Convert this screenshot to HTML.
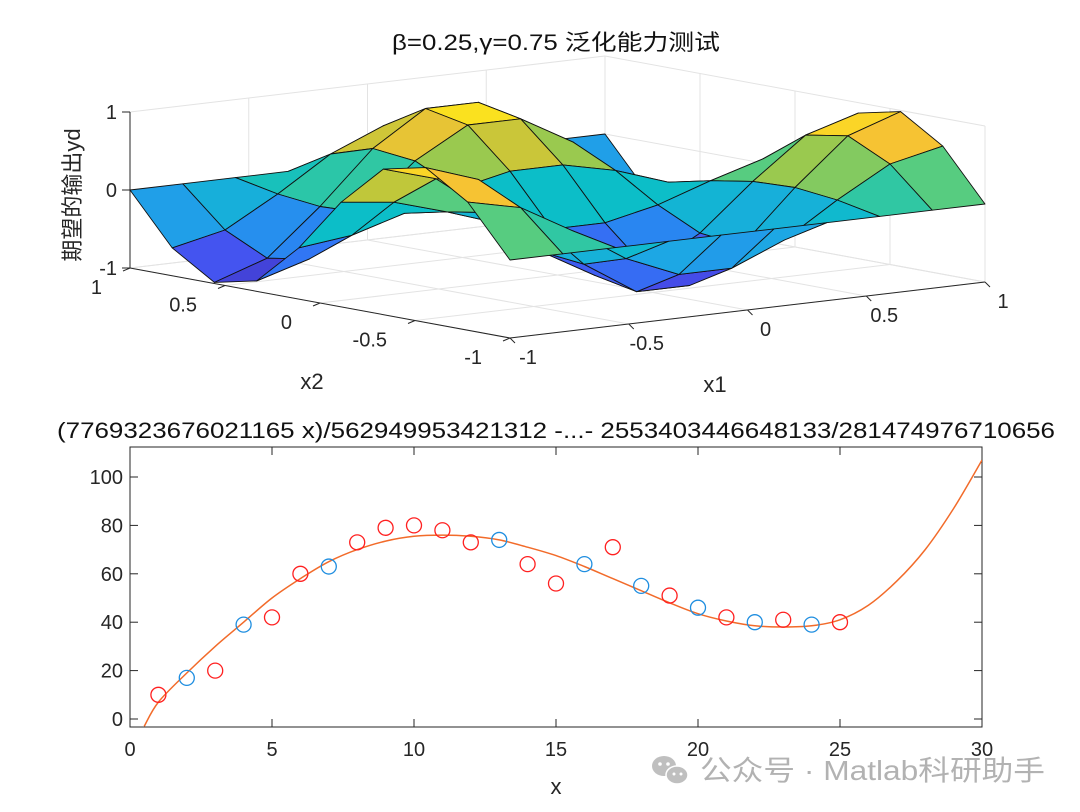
<!DOCTYPE html>
<html><head><meta charset="utf-8">
<style>
html,body{margin:0;padding:0;background:#fff;}
svg{display:block;font-family:"Liberation Sans","Noto Sans CJK SC",sans-serif;}
</style></head>
<body>
<svg id="fig" width="1080" height="812" viewBox="0 0 1080 812" xmlns="http://www.w3.org/2000/svg">
<rect width="1080" height="812" fill="#fff"/>
<g id="top3d"></g>
<text x="392" y="50" textLength="328" lengthAdjust="spacingAndGlyphs" font-size="22" fill="#111">β=0.25,γ=0.75 泛化能力测试</text>
<text transform="translate(80,195) rotate(-90)" text-anchor="middle" font-size="22" fill="#262626">期望的输出yd</text>
<text x="312" y="389" text-anchor="middle" font-size="22" fill="#262626">x2</text>
<text x="715" y="392" text-anchor="middle" font-size="22" fill="#262626">x1</text>

<g id="bottom"></g>
<text x="57" y="438" textLength="998" lengthAdjust="spacingAndGlyphs" font-size="22" fill="#111">(7769323676021165 x)/562949953421312 -...- 2553403446648133/281474976710656</text>
<text x="556" y="794" text-anchor="middle" font-size="22" fill="#262626">x</text>

<g opacity="0.75">
  <ellipse cx="664" cy="766" rx="12" ry="10" fill="#aaa"/>
  <ellipse cx="677" cy="775" rx="11" ry="9" fill="#aaa" stroke="#fff" stroke-width="1.5"/>
  <circle cx="660" cy="764" r="1.8" fill="#fff"/><circle cx="668" cy="764" r="1.8" fill="#fff"/>
  <circle cx="674" cy="774" r="1.5" fill="#fff"/><circle cx="681" cy="774" r="1.5" fill="#fff"/>
  <text x="700" y="780" textLength="345" lengthAdjust="spacingAndGlyphs" font-size="28" fill="#999">公众号 · Matlab科研助手</text>
</g>
</svg>
<script>
var NS='http://www.w3.org/2000/svg';
// ---------- bottom chart data ----------
var redX=[1,3,5,6,8,9,10,11,12,14,15,17,19,21,23,25];
var redY=[10,20,42,60,73,79,80,78,73,64,56,71,51,42,41,40];
var blueX=[2,4,7,13,16,18,20,22,24];
var blueY=[17,39,63,74,64,55,46,40,39];
var fitX=[0.5,1,2,3,4,5,6,7,8,9,10,11,12,13,14,15,16,17,18,19,20,21,22,23,24,25,26,27,28,29,30];
var fitY=[-3,7,19,30,40,50,58,65,70,73.5,75.5,76,75.5,74,71,67.5,63,58,53,48,43.5,40.5,38.5,38,38.5,41,47,57,70,87,107];
var xTicks=[0,5,10,15,20,25,30];
var yTicks=[0,20,40,60,80,100];
// ---------- surface data ----------
var gridVals=[-1,-0.7778,-0.5556,-0.3333,-0.1111,0.1111,0.3333,0.5556,0.7778,1];
var axTicks=[-1,-0.5,0,0.5,1];
var zTicks=[-1,0,1];

function mk(tag,attrs,parent){var e=document.createElementNS(NS,tag);for(var k in attrs)e.setAttribute(k,attrs[k]);parent.appendChild(e);return e;}

// ===== bottom =====
var B=document.getElementById('bottom');
var L=130,R=982,T=447,Bt=727;
function sx(v){return L+(v-0)*(R-L)/30;}
function sy(v){return 719-v*2.42;}
mk('rect',{x:L,y:T,width:R-L,height:Bt-T,fill:'#fff',stroke:'#262626','stroke-width':1},B);
xTicks.forEach(function(t){
  var x=sx(t);
  mk('line',{x1:x,y1:Bt,x2:x,y2:Bt-8,stroke:'#262626'},B);
  mk('line',{x1:x,y1:T,x2:x,y2:T+8,stroke:'#262626'},B);
  var tx=mk('text',{x:x,y:756,'text-anchor':'middle','font-size':20,fill:'#262626'},B);
  tx.textContent=t;
  
  
});
yTicks.forEach(function(t){
  var y=sy(t);
  mk('line',{x1:L,y1:y,x2:L+8,y2:y,stroke:'#262626'},B);
  mk('line',{x1:R,y1:y,x2:R-8,y2:y,stroke:'#262626'},B);
  var tx=mk('text',{x:L-7,y:y+7,'text-anchor':'end','font-size':20,fill:'#262626'},B);
  tx.textContent=t;
  
  
});
var cp=mk('clipPath',{id:'bclip'},B);mk('rect',{x:L,y:T,width:R-L,height:Bt-T},cp);
var P2=fitX.map(function(x,i){return [sx(x),sy(fitY[i])];});
var d='M'+P2[0][0].toFixed(1)+','+P2[0][1].toFixed(1);
for(var i=0;i<P2.length-1;i++){
  var p0=P2[Math.max(0,i-1)],p1=P2[i],p2=P2[i+1],p3=P2[Math.min(P2.length-1,i+2)];
  var c1=[p1[0]+(p2[0]-p0[0])/6,p1[1]+(p2[1]-p0[1])/6],c2=[p2[0]-(p3[0]-p1[0])/6,p2[1]-(p3[1]-p1[1])/6];
  d+='C'+c1[0].toFixed(1)+','+c1[1].toFixed(1)+' '+c2[0].toFixed(1)+','+c2[1].toFixed(1)+' '+p2[0].toFixed(1)+','+p2[1].toFixed(1);
}
var fl=mk('path',{d:d,fill:'none',stroke:'#f26b2a','stroke-width':1.5,'clip-path':'url(#bclip)'},B);


redX.forEach(function(x,i){
  var c=mk('ellipse',{cx:sx(x),cy:sy(redY[i]),rx:7.5,ry:7.5,fill:'none',stroke:'#ff2020','stroke-width':1.3},B);
  
  
});
blueX.forEach(function(x,i){
  var c=mk('ellipse',{cx:sx(x),cy:sy(blueY[i]),rx:7.5,ry:7.5,fill:'none',stroke:'#1f8ee0','stroke-width':1.3},B);
  
  
});

// ===== 3D =====
var G=document.getElementById('top3d');
function P(x1,x2,z){var a=x1+1,b=x2+1;return [510+237.5*a-190*b,338-28*a-35*b-78*(z+1)];}
function pt(p){return p[0].toFixed(1)+','+p[1].toFixed(1);}
function line3(p,q,attrs){var A=P.apply(null,p),Q=P.apply(null,q);attrs.x1=A[0];attrs.y1=A[1];attrs.x2=Q[0];attrs.y2=Q[1];return mk('line',attrs,G);}
var gs={stroke:'#e3e3e3','stroke-width':1};
axTicks.forEach(function(t){
  line3([t,1,-1],[t,1,1],gs); line3([t,-1,-1],[t,1,-1],gs);
  line3([1,t,-1],[1,t,1],gs); line3([-1,t,-1],[1,t,-1],gs);
});
zTicks.forEach(function(t){line3([-1,1,t],[1,1,t],gs);line3([1,1,t],[1,-1,t],gs);});
var ax={stroke:'#262626','stroke-width':1};
line3([-1,1,-1],[-1,1,1],ax);
line3([-1,1,-1],[-1,-1,-1],ax);
line3([-1,-1,-1],[1,-1,-1],ax);
zTicks.forEach(function(t){var p=P(-1,1,t);mk('line',{x1:p[0]-8,y1:p[1],x2:p[0],y2:p[1],stroke:'#262626'},G);
  var tx=mk('text',{x:p[0]-13,y:p[1]+7,'text-anchor':'end','font-size':20,fill:'#262626'},G);tx.textContent=t;
  
  });
axTicks.forEach(function(t){
  var p=P(-1,t,-1);mk('line',{x1:p[0],y1:p[1],x2:p[0]-7,y2:p[1]+3,stroke:'#262626'},G);
  var tx=mk('text',{x:p[0]-28,y:p[1]+26,'text-anchor':'end','font-size':20,fill:'#262626'},G);tx.textContent=t;
  
  
  var q=P(t,-1,-1);mk('line',{x1:q[0],y1:q[1],x2:q[0]+5,y2:q[1]+5,stroke:'#262626'},G);
  var ty=mk('text',{x:q[0]+18,y:q[1]+26,'text-anchor':'middle','font-size':20,fill:'#262626'},G);ty.textContent=t;
  
  
});
var PAR=[[0,62,38,168],[0.125,70,80,240],[0.25,45,125,245],[0.375,30,165,230],[0.5,12,190,200],[0.625,70,205,140],[0.75,180,200,60],[0.875,252,195,50],[1,249,251,14]];
function parula(t){t=Math.max(0,Math.min(1,t));for(var i=1;i<PAR.length;i++){if(t<=PAR[i][0]){var a=PAR[i-1],b=PAR[i],f=(t-a[0])/(b[0]-a[0]);return 'rgb('+[1,2,3].map(function(k){return Math.round(a[k]+(b[k]-a[k])*f);}).join(',')+')';}}return 'rgb(249,251,14)';}
var n=gridVals.length,Z=[],zmin=1e9,zmax=-1e9;
for(var i=0;i<n;i++){Z[i]=[];for(var j=0;j<n;j++){var z=Math.cos(Math.PI*gridVals[i])*Math.sin(Math.PI*gridVals[j]);Z[i][j]=z;zmin=Math.min(zmin,z);zmax=Math.max(zmax,z);}}
var faces=[];
for(var i=0;i<n-1;i++)for(var j=0;j<n-1;j++){
  var xs=[gridVals[i],gridVals[i+1],gridVals[i+1],gridVals[i]],ys=[gridVals[j],gridVals[j],gridVals[j+1],gridVals[j+1]],zs=[Z[i][j],Z[i+1][j],Z[i+1][j+1],Z[i][j+1]];
  var cx=(xs[0]+xs[1])/2,cy=(ys[0]+ys[2])/2,zm=(zs[0]+zs[1]+zs[2]+zs[3])/4;
  faces.push({xs:xs,ys:ys,zs:zs,zm:zm,depth:28*cx+35*cy});
}
faces.sort(function(a,b){return b.depth-a.depth;});
faces.forEach(function(f){
  var pts=[];for(var k=0;k<4;k++)pts.push(pt(P(f.xs[k],f.ys[k],f.zs[k])));
  var c=parula((f.zm-zmin)/(zmax-zmin));
  var pg=mk('polygon',{points:pts.join(' '),fill:c,stroke:'#111','stroke-width':0.9,'stroke-linejoin':'round'},G);
  
  
});
</script>
</body></html>
